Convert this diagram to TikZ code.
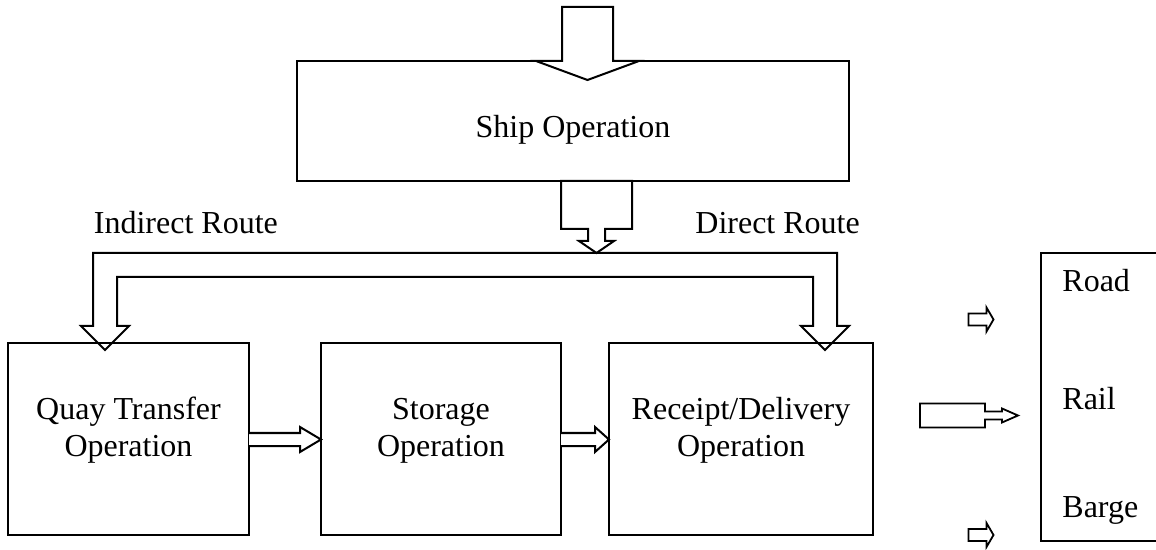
\documentclass[tikz,border=0pt]{standalone}
\usepackage{fontspec}
\setmainfont{Liberation Serif}
\usetikzlibrary{calc}
\begin{document}
\begin{tikzpicture}[x=0.5pt,y=-0.5pt,
  box/.style={draw, line width=1pt, inner sep=0pt, outer sep=0pt},
  lbl/.style={inner sep=0pt, font=\fontsize{16}{19}\selectfont},
  blk/.style={draw, line width=1pt, fill=white, line join=miter},
  sml/.style={draw, line width=0.9pt, fill=white, line join=miter}]
\useasboundingbox (0,0) rectangle (1156,550);

% boxes
\node[box, minimum width=276pt, minimum height=60pt] (ship) at (573,121) {};
\node[box, minimum width=120.5pt, minimum height=96pt] (quay) at (128.5,439) {};
\node[box, minimum width=120pt, minimum height=96pt] (storage) at (441,439) {};
\node[box, minimum width=132pt, minimum height=96pt] (receipt) at (741,439) {};
\draw[line width=1pt] (1160,253) -- (1041,253) coordinate (modes) -- (1041,541) -- (1160,541);

% texts
\node[lbl, anchor=base] (shiptxt) at (573,138) {Ship Operation};
\node[lbl, anchor=base] (quay1) at (128.5,420) {Quay Transfer};
\node[lbl, anchor=base] (quay2) at (128.5,457) {Operation};
\node[lbl, anchor=base] (stor1) at (441,420) {Storage};
\node[lbl, anchor=base] (stor2) at (441,457) {Operation};
\node[lbl, anchor=base] (rec1) at (741,420) {Receipt/Delivery};
\node[lbl, anchor=base] (rec2) at (741,457) {Operation};
\node[lbl, anchor=base west] (indirect) at (93.5,234) {Indirect Route};
\node[lbl, anchor=base west] (direct) at (695,234) {Direct Route};
\node[lbl, anchor=base west] (road) at (1062,292) {Road};
\node[lbl, anchor=base west] (rail) at (1062,409) {Rail};
\node[lbl, anchor=base west] (barge) at (1062,517) {Barge};

% arrow into ship operation
\begin{scope}[shift={($(ship.north)+(14.5,0)$)}]
\draw[blk] (-25.5,-54) -- (25.5,-54) -- (25.5,0) -- (51.5,0) -- (0,19)
  -- (-51.5,0) -- (-25.5,0) -- cycle;
\end{scope}

% arrow from ship operation down to the route bar
\begin{scope}[shift={($(ship.south)+(23.5,0)$)}]
\draw[blk] (-35.5,0) -- (35.5,0) -- (35.5,48) -- (8.5,48) -- (8.5,60) -- (17.5,60)
  -- (0,72) -- (-17.5,60) -- (-8.5,60) -- (-8.5,48) -- (-35.5,48) -- cycle;
\end{scope}

% route bar with the two branch arrows
\draw[line width=1pt, line join=miter]
  (93,253) -- (837,253) -- (837,326) -- (849,326) -- (825,350) -- (801,326)
  -- (813,326) -- (813,277) -- (117,277) -- (117,326) -- (129,326)
  -- (105,350) -- (81,326) -- (93,326) -- cycle;

% arrows between operation boxes
\begin{scope}[shift={($(storage.west)+(0,0.5)$)}]
\draw[blk] (-72,-6.5) -- (-21,-6.5) -- (-21,-12.5) -- (0,0) -- (-21,12.5)
  -- (-21,6.5) -- (-72,6.5);
\end{scope}
\begin{scope}[shift={($(receipt.west)+(0,0.5)$)}]
\draw[blk] (-48,-6.5) -- (-14,-6.5) -- (-14,-12.5) -- (0,0) -- (-14,12.5)
  -- (-14,6.5) -- (-48,6.5);
\end{scope}

% small arrows towards the transport modes
\coordinate (a1) at (993.5,319.5);
\coordinate (a3) at (993.5,535);
\foreach \c in {a1,a3}{
  \begin{scope}[shift={(\c)}]
  \draw[sml] (-25,-6) -- (-7,-6) -- (-7,-12) -- (0,0) -- (-7,12) -- (-7,6)
    -- (-25,6) -- cycle;
  \end{scope}
}
\coordinate (a2) at (1018,415.5);
\begin{scope}[shift={(a2)}]
\draw[sml] (-98,-12) -- (-33,-12) -- (-33,-4) -- (-16,-4) -- (-16,-7)
  -- (0,0) -- (-16,7) -- (-16,4) -- (-33,4) -- (-33,12) -- (-98,12) -- cycle;
\end{scope}
\end{tikzpicture}
\end{document}
